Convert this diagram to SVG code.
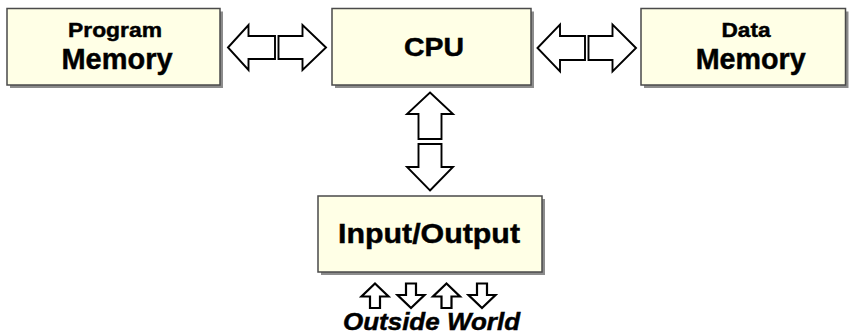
<svg xmlns="http://www.w3.org/2000/svg" width="851" height="336" viewBox="0 0 851 336">
  <style>
    .box { fill: #ffffe6; stroke: #4a4a4a; stroke-width: 1.5; }
    .shadow { fill: #8c8c8c; }
    .bus { fill: #ffffff; stroke: #000000; stroke-width: 1.9; stroke-linejoin: miter; }
    .port { fill: #ffffff; stroke: #000000; stroke-width: 2.2; stroke-linejoin: miter; }
    .lbl { font-family: "Liberation Sans", Arial, sans-serif; font-weight: bold; fill: #000000; stroke: #000000; stroke-width: 0.45; text-anchor: middle; }
  </style>

  <rect width="851" height="336" fill="#ffffff"/>

  <g id="program-memory">
    <rect class="shadow" x="10" y="11.5" width="213" height="76.5"/>
    <rect class="box" x="7" y="8.5" width="213" height="76.5"/>
    <text class="lbl" x="115" y="36.7" font-size="20" textLength="94" lengthAdjust="spacingAndGlyphs">Program</text>
    <text class="lbl" x="117" y="69" font-size="29.5" textLength="111" lengthAdjust="spacingAndGlyphs">Memory</text>
  </g>

  <g id="cpu">
    <rect class="shadow" x="335" y="11.5" width="199" height="76.5"/>
    <rect class="box" x="332" y="8.5" width="199" height="76.5"/>
    <text class="lbl" x="434" y="55.7" font-size="26" textLength="60" lengthAdjust="spacingAndGlyphs">CPU</text>
  </g>

  <g id="data-memory">
    <rect class="shadow" x="644" y="11.5" width="204.5" height="76.5"/>
    <rect class="box" x="641" y="8.5" width="204.5" height="76.5"/>
    <text class="lbl" x="746" y="36.7" font-size="20" textLength="49" lengthAdjust="spacingAndGlyphs">Data</text>
    <text class="lbl" x="750.7" y="68.5" font-size="29.5" textLength="110" lengthAdjust="spacingAndGlyphs">Memory</text>
  </g>

  <g id="input-output">
    <rect class="shadow" x="321" y="199" width="224" height="76"/>
    <rect class="box" x="318" y="196" width="224" height="76"/>
    <text class="lbl" x="429" y="243.3" font-size="28" textLength="182" lengthAdjust="spacingAndGlyphs">Input/Output</text>
  </g>

  <g id="connectors">
    <!-- program memory <-> CPU -->
    <path class="bus" d="M228,47.5 L248.5,25 L248.5,36 L275,36 L275,59 L248.5,59 L248.5,70 Z"/>
    <path class="bus" d="M326,47.5 L302.5,25 L302.5,36 L278.5,36 L278.5,59 L302.5,59 L302.5,70 Z"/>
    <!-- CPU <-> data memory -->
    <path class="bus" d="M537.5,48 L560,24.5 L560,36 L585,36 L585,60 L560,60 L560,71.5 Z"/>
    <path class="bus" d="M636,48 L612.5,24.5 L612.5,36 L588.5,36 L588.5,60 L612.5,60 L612.5,71.5 Z"/>
    <!-- CPU <-> input/output -->
    <path class="bus" d="M430,92.5 L453,114 L441.5,114 L441.5,139 L418.5,139 L418.5,114 L407,114 Z"/>
    <path class="bus" d="M430,190.5 L453,167 L441.5,167 L441.5,144 L418.5,144 L418.5,167 L407,167 Z"/>
    <!-- input/output <-> outside world -->
    <path class="port" d="M375,283.5 L388.5,296.5 L380,296.5 L380,308 L370,308 L370,296.5 L361.5,296.5 Z"/>
    <path class="port" d="M411,308 L424.5,295 L416,295 L416,283.5 L406,283.5 L406,295 L397.5,295 Z"/>
    <path class="port" d="M446.5,283.5 L460,296.5 L451.5,296.5 L451.5,308 L441.5,308 L441.5,296.5 L433,296.5 Z"/>
    <path class="port" d="M482,308 L495.5,295 L487,295 L487,283.5 L477,283.5 L477,295 L468.5,295 Z"/>
  </g>

  <text class="lbl" x="431.5" y="330" font-size="23" font-style="italic" textLength="177" lengthAdjust="spacingAndGlyphs">Outside World</text>
</svg>
